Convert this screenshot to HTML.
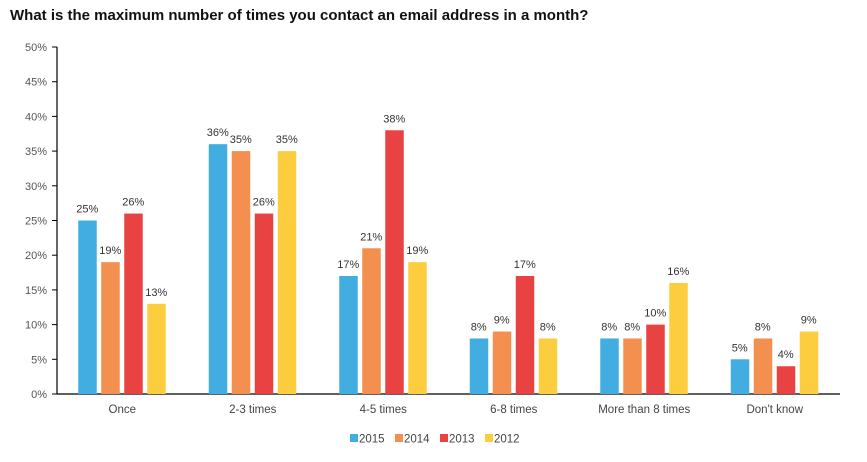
<!DOCTYPE html>
<html><head><meta charset="utf-8"><style>
body{margin:0;background:#fff;font-family:"Liberation Sans",sans-serif;}
svg text{font-family:"Liberation Sans",sans-serif;}
</style></head><body>
<svg width="867" height="457" id="c">
<text x="10" y="20" font-size="15" font-weight="bold" fill="#111">What is the maximum number of times you contact an email address in a month?</text>
</svg>
<script>
const categories=["Once","2-3 times","4-5 times","6-8 times","More than 8 times","Don't know"];
const seriesNames=["2015","2014","2013","2012"];
const s2015=[25,36,17,8,8,5];
const s2014=[19,35,21,9,8,8];
const s2013=[26,26,38,17,10,4];
const s2012=[13,35,19,8,16,9];
const yTicks=[0,5,10,15,20,25,30,35,40,45,50];
const series=[s2015,s2014,s2013,s2012];
const colors=["#41ade0","#f3904f","#e84242","#fbcd3f"];
const svg=document.getElementById('c');
const NS="http://www.w3.org/2000/svg";
const x0=57,x1=840,y0=394,y1=47;
const y=v=>y0-(v/50)*(y0-y1);
const gw=(x1-x0)/categories.length;
const xc=i=>x0+gw*(i+0.5);
function mk(t,a,txt){const e=document.createElementNS(NS,t);for(const k in a)e.setAttribute(k,a[k]);if(txt!==undefined)e.textContent=txt;svg.appendChild(e);return e;}
let e=mk('line',{x1:x0,y1:y1,x2:x0,y2:y0,stroke:'#000','stroke-width':1.2});


e=mk('line',{x1:x0,y1:y0,x2:x1,y2:y0,stroke:'#000','stroke-width':1.2});


yTicks.forEach(t=>{
 let l=mk('line',{x1:x0-5,y1:y(t),x2:x0,y2:y(t),stroke:'#000'});
 
 
 let tx=mk('text',{x:x0-10,y:y(t)+4,'text-anchor':'end','font-size':11,fill:'#555'},t+'%');
 
 
});
categories.forEach((c,i)=>{
 const cx=xc(i);
 series.forEach((s,j)=>{
  const bx=cx-44+j*23;
  let r=mk('rect',{x:bx,y:y(s[i]),width:18.5,height:y0-y(s[i]),fill:colors[j]});
  
  
  let t=mk('text',{x:bx+9,y:y(s[i])-8,'text-anchor':'middle','font-size':11,fill:'#333'},s[i]+'%');
  
  
 });
 let t=mk('text',{x:cx,y:413,'text-anchor':'middle','font-size':11.5,fill:'#444'},c);
 
 
});
seriesNames.forEach((n,j)=>{
 const lx=350+j*45;
 let r=mk('rect',{x:lx,y:434,width:8,height:8,fill:colors[j]});
 
 
 let t=mk('text',{x:lx+9,y:442.5,'font-size':11.5,fill:'#444'},n);
 
 
});
</script>
</body></html>
